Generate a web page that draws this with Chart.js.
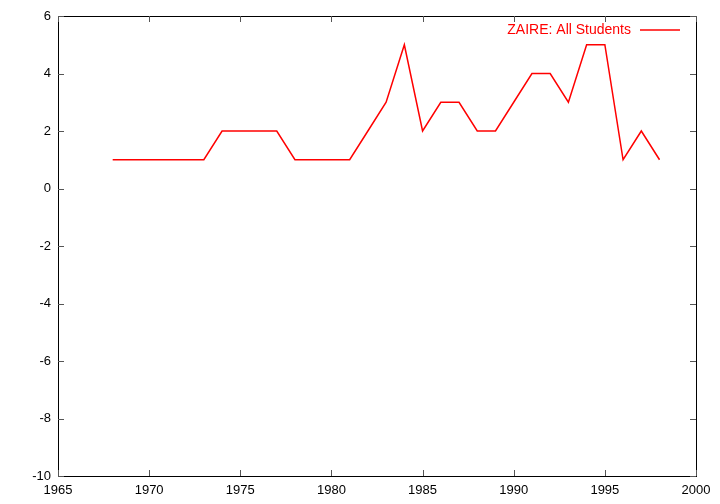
<!DOCTYPE html>
<html>
<head>
<meta charset="utf-8">
<script src="https://cdn.jsdelivr.net/npm/chart.js@4.4.0/dist/chart.umd.min.js"></script>
<style>
  html, body { margin: 0; padding: 0; background: #fff; }
  #wrap { width: 720px; height: 504px; position: relative; }
</style>
</head>
<body>
<div id="wrap"><canvas id="zaireChart"></canvas></div>
<script>
var years = [1968, 1969, 1970, 1971, 1972, 1973, 1974, 1975, 1976, 1977, 1978, 1979, 1980, 1981, 1982, 1983,
             1984, 1985, 1986, 1987, 1988, 1989, 1990, 1991, 1992, 1993, 1994, 1995, 1996, 1997, 1998];
var students = [1, 1, 1, 1, 1, 1, 2, 2, 2, 2, 1, 1, 1, 1, 2, 3,
                5, 2, 3, 3, 2, 2, 3, 4, 4, 3, 5, 5, 1, 2, 1];
var seriesLabel = 'ZAIRE: All Students';
var xTicks = [1965, 1970, 1975, 1980, 1985, 1990, 1995, 2000];
var yTicks = [-10, -8, -6, -4, -2, 0, 2, 4, 6];

var points = years.map(function (y, i) { return { x: y, y: students[i] }; });
var fontFamily = '"Liberation Sans", Arial, Helvetica, sans-serif';

// gnuplot-style frame with inward ticks on all four sides, plus the key
var framePlugin = {
  id: 'frame',
  afterDraw: function (chart) {
    var ctx = chart.ctx, a = chart.chartArea;
    var xs = chart.scales.x, ys = chart.scales.y;
    ctx.save();
    ctx.strokeStyle = '#000';
    ctx.lineWidth = 1;
    ctx.strokeRect(a.left + 0.5, a.top + 0.5, a.right - a.left, a.bottom - a.top);
    ctx.strokeStyle = '#555';
    ctx.beginPath();
    xTicks.forEach(function (v) {
      var px = Math.round(xs.getPixelForValue(v)) + 0.5;
      ctx.moveTo(px, a.bottom); ctx.lineTo(px, a.bottom - 6);
      ctx.moveTo(px, a.top); ctx.lineTo(px, a.top + 6);
    });
    yTicks.forEach(function (v) {
      var py = Math.round(ys.getPixelForValue(v)) + 0.5;
      ctx.moveTo(a.left, py); ctx.lineTo(a.left + 6, py);
      ctx.moveTo(a.right, py); ctx.lineTo(a.right - 6, py);
    });
    ctx.stroke();

    // key, top right
    var ky = a.top + 14;
    ctx.strokeStyle = '#ff0000';
    ctx.lineWidth = 1.5;
    ctx.beginPath();
    ctx.moveTo(a.right - 56, ky); ctx.lineTo(a.right - 16, ky);
    ctx.stroke();
    ctx.fillStyle = '#ff0000';
    ctx.font = '14px ' + fontFamily;
    ctx.textAlign = 'right';
    ctx.textBaseline = 'middle';
    ctx.fillText(seriesLabel, a.right - 65, ky);
    ctx.restore();
  }
};

new Chart(document.getElementById('zaireChart'), {
  type: 'line',
  data: {
    datasets: [{
      label: seriesLabel,
      data: points,
      borderColor: '#ff0000',
      borderWidth: 1.5,
      pointRadius: 0,
      fill: false,
      tension: 0
    }]
  },
  options: {
    responsive: true,
    maintainAspectRatio: false,
    animation: false,
    layout: { padding: { top: 16, right: 24, left: 0, bottom: 0 } },
    plugins: { legend: { display: false }, tooltip: { enabled: false } },
    scales: {
      x: {
        type: 'linear',
        min: 1965, max: 2000,
        afterBuildTicks: function (scale) { scale.ticks = xTicks.map(function (v) { return { value: v }; }); },
        afterFit: function (scale) { scale.height = 28; },
        grid: { display: false, drawTicks: false },
        border: { display: false },
        ticks: {
          color: '#000', padding: 7, maxRotation: 0,
          font: { family: fontFamily, size: 13 },
          callback: function (v) { return String(v); }
        }
      },
      y: {
        min: -10, max: 6,
        afterBuildTicks: function (scale) { scale.ticks = yTicks.map(function (v) { return { value: v }; }); },
        afterFit: function (scale) { scale.width = 58; },
        grid: { display: false, drawTicks: false },
        border: { display: false },
        ticks: { color: '#000', padding: 7, font: { family: fontFamily, size: 13 } }
      }
    }
  },
  plugins: [framePlugin]
});
</script>
</body>
</html>
